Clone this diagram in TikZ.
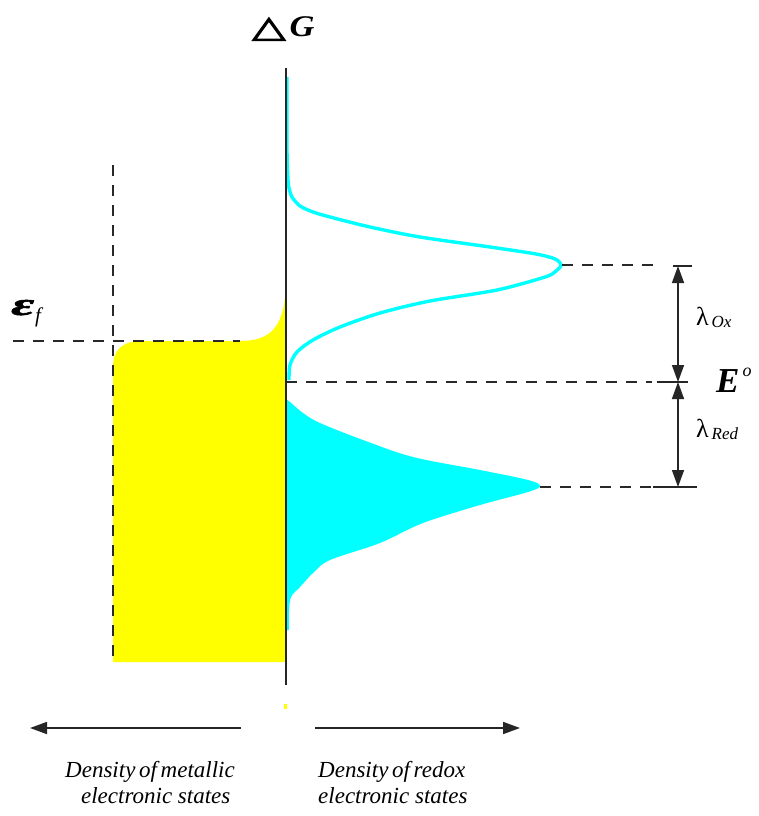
\documentclass[tikz,border=0pt]{standalone}
\usepackage{fontspec}
\setmainfont{Liberation Serif}
\newfontfamily\trifont[FakeBold=3]{DejaVu Sans}
\newfontfamily\epsfont[FakeBold=1.5]{Liberation Serif}
\usetikzlibrary{arrows.meta}
\definecolor{cyanc}{RGB}{0,255,255}
\definecolor{yellowc}{RGB}{255,255,0}
\definecolor{dashc}{RGB}{40,40,40}
\newcommand\tightspaces{\spaceskip=0.16em plus 0.05em\relax}
\begin{document}
\begin{tikzpicture}[x=1pt,y=-1pt,
  dashline/.style={draw=dashc,line width=1.8pt,dash pattern=on 11pt off 9pt},
  axisline/.style={draw=black!85,line width=1.8pt},
  tickline/.style={draw=black!85,line width=1.6pt},
  dimarrow/.style={draw=black!85,line width=1.5pt,{Triangle[length=17pt,width=12pt]}-{Triangle[length=17pt,width=12pt]}},
  botarrow/.style={draw=black!85,line width=1.8pt,-{Triangle[length=17pt,width=12pt]}},
  lab/.style={inner sep=0pt,anchor=base},
  bottext/.style={inner sep=0pt,font=\fontsize{23}{26}\selectfont\itshape}
]
\path[use as bounding box] (0,0) rectangle (758,816);

% yellow metallic states
\fill[yellowc] (113,662) -- (113,367) .. controls (113,350) and (122,341) .. (142,341)
  -- (240,341) .. controls (265,341) and (282,332) .. (285,296) -- (285,662) -- cycle;

% cyan filled Red distribution
\fill[cyanc] plot[smooth,tension=0.55] coordinates {(286,399) (290,402) (303,413) (320,423) (363,440) (413,457) (480,470) (528,480) (540,486) (528,492) (480,505) (423,523) (380,543) (330,560) (313,573) (300,587) (291,597) (289,612) (289,630)} -- (285,630) -- cycle;

% cyan Ox curve
\draw[cyanc,line width=3.4pt] plot[smooth,tension=0.5] coordinates {(287,77) (287,150) (288,180) (289,188) (292,197) (300,206) (313,212) (330,217) (370,227) (420,237) (490,247) (536,254) (555,259) (561,265) (556,271) (545,277) (497,290) (430,301) (380,313) (340,327) (313,340) (297,352) (290,365) (289,380)};

% coordinates
\coordinate (axtop) at (286,68);
\coordinate (axbot) at (286,685);
\coordinate (vdtop) at (113,165);
\coordinate (vdbot) at (113,662);
\coordinate (hfL) at (13,341);
\coordinate (hfR) at (240,341);
\coordinate (pkOx) at (562,265);
\coordinate (pkRed) at (540,487);
\coordinate (e0L) at (286,382);
\coordinate (dOx) at (662,265);
\coordinate (dE) at (652,382);
\coordinate (dRed) at (652,487);
\coordinate (tOxL) at (673,266); \coordinate (tOxR) at (692,266);
\coordinate (tEL) at (657,382); \coordinate (tER) at (688,382);
\coordinate (tRL) at (653,487); \coordinate (tRR) at (697,487);
\coordinate (aOx) at (678,266);
\coordinate (aE) at (678,382);
\coordinate (aRed) at (678,487);
\coordinate (blS) at (241,728); \coordinate (blE) at (30,728);
\coordinate (brS) at (315,728); \coordinate (brE) at (520,728);

% dashed guides
\draw[dashline] (vdtop) -- (vdbot);
\draw[dashline] (hfL) -- (hfR);
\draw[dashline] (pkOx) -- (dOx);
\draw[dashline] (e0L) -- (dE);
\draw[dashline] (pkRed) -- (dRed);

% axis
\draw[axisline] (axtop) -- (axbot);
\fill[yellowc] (283.5,704) rectangle (286.5,709);

% ticks and dimension arrows
\draw[tickline] (tOxL) -- (tOxR);
\draw[tickline] (tEL) -- (tER);
\draw[tickline] (tRL) -- (tRR);
\draw[dimarrow] (aOx) -- (aE);
\draw[dimarrow] (aE) -- (aRed);

% bottom arrows
\draw[botarrow] (blS) -- (blE);
\draw[botarrow] (brS) -- (brE);

% labels
\node[lab,anchor=base west] (dG) at (252,37) {\fontsize{30}{30}\selectfont\scalebox{1.45}[1]{\trifont △}\hspace{4pt}\scalebox{1.15}[1]{\bfseries\itshape G}};
\node[lab,anchor=base west] (ef) at (11,315) {\fontsize{32}{32}\selectfont\scalebox{1.75}[1]{\epsfont\bfseries\itshape ε}\hspace{1pt}\raisebox{-0.5ex}{\fontsize{21}{21}\selectfont\itshape f}};
\node[lab,anchor=base west] (lOx) at (696,325) {\fontsize{26}{26}\selectfont λ\raisebox{-0.25ex}{\fontsize{17}{17}\selectfont\itshape\,Ox}};
\node[lab,anchor=base west] (E0) at (716,392) {\fontsize{35}{35}\selectfont{\bfseries\itshape E}\raisebox{0.95ex}{\fontsize{18}{18}\selectfont\itshape\,o}};
\node[lab,anchor=base west] (lRed) at (696,437) {\fontsize{26}{26}\selectfont λ\raisebox{-0.25ex}{\fontsize{17}{17}\selectfont\itshape\,Red}};
\node[bottext,align=center,anchor=north] (tmet) at (150,761) {\tightspaces Density of metallic\\ \ \ electronic states};
\node[bottext,align=left,anchor=north west] (tred) at (318,761) {\tightspaces Density of redox\\electronic states};
\end{tikzpicture}
\end{document}
